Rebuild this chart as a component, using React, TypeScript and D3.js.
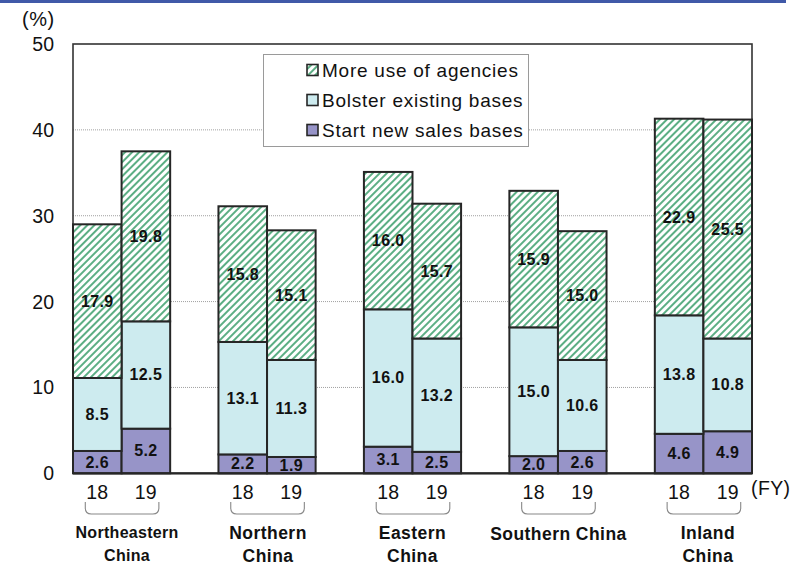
import React from "react";
import * as d3 from "d3";

// Regions and fiscal years
const regions = ["Northeastern China", "Northern China", "Eastern China", "Southern China", "Inland China"];
const regionLines = [["Northeastern", "China"], ["Northern", "China"], ["Eastern", "China"], ["Southern China"], ["Inland", "China"]];
const years = ["18", "19"];

// Series values (%), ordered region by region, FY18 then FY19
const startNewBases = [2.6, 5.2, 2.2, 1.9, 3.1, 2.5, 2.0, 2.6, 4.6, 4.9];
const bolsterExisting = [8.5, 12.5, 13.1, 11.3, 16.0, 13.2, 15.0, 10.6, 13.8, 10.8];
const moreAgencies = [17.9, 19.8, 15.8, 15.1, 16.0, 15.7, 15.9, 15.0, 22.9, 25.5];

const seriesNames = ["Start new sales bases", "Bolster existing bases", "More use of agencies"];
const yTicks = [0, 10, 20, 30, 40, 50];

const W = 809;
const H = 568;
const FONT = "'Liberation Sans', Arial, sans-serif";
const PURPLE = "#9794c8";
const CYAN = "#cdebef";
const GREEN = "#5cae84";
const EDGE = "#262626";

export default function App() {
  const plot = { left: 73, right: 752, top: 44, bottom: 473.3 };

  const x0 = d3.scaleBand<string>().domain(regions).range([plot.left, plot.right]).paddingInner(0.332).paddingOuter(0);
  const x1 = d3.scaleBand<string>().domain(years).range([0, x0.bandwidth()]);
  const y = d3.scaleLinear().domain([0, 50]).range([plot.bottom, plot.top]);

  const rows = regions.flatMap((r, ri) =>
    years.map((yr, yi) => {
      const i = ri * 2 + yi;
      return { region: r, year: yr, start: startNewBases[i], bolster: bolsterExisting[i], agencies: moreAgencies[i] };
    })
  );
  const stack = d3.stack<any>().keys(["start", "bolster", "agencies"])(rows);
  const fills = [PURPLE, CYAN, "url(#hatch)"];

  // small horizontal nudges for the region captions
  const captionDx = [5.5, 1, 0, 0.5, 4.5];

  return (
    <svg width={W} height={H} style={{ position: "absolute", left: 0, top: 0, background: "#fff" }} fontFamily={FONT}>
      <defs>
        <pattern id="hatch" patternUnits="userSpaceOnUse" width="5" height="5" patternTransform="rotate(45)">
          <rect width="5" height="5" fill="#fff" />
          <rect x="0" y="0" width="2" height="5" fill={GREEN} />
        </pattern>
      </defs>

      {/* header rule */}
      <rect x={0} y={0} width={786} height={3} fill="#4059a8" />

      {/* gridlines */}
      {yTicks.filter((t) => t > 0 && t < 50).map((t) => (
        <line key={t} x1={plot.left} x2={plot.right} y1={y(t)} y2={y(t)} stroke="#a0a0a0" strokeWidth={1} strokeDasharray="1,1" />
      ))}

      {/* plot frame */}
      <rect x={plot.left} y={plot.top} width={plot.right - plot.left} height={plot.bottom - plot.top} fill="none" stroke="#333" strokeWidth={1.6} />

      {/* stacked bars */}
      {stack.map((layer, li) =>
        layer.map((d, di) => {
          const row = rows[di];
          const bx = (x0(row.region) as number) + (x1(row.year) as number);
          const bw = x1.bandwidth();
          const yTop = y(d[1]);
          const yBot = y(d[0]);
          const v = d[1] - d[0];
          return (
            <g key={`${li}-${di}`}>
              <rect x={bx} y={yTop} width={bw} height={yBot - yTop} fill={fills[li]} stroke={EDGE} strokeWidth={2} />
              <text x={bx + bw / 2} y={(yTop + yBot) / 2} textAnchor="middle" dominantBaseline="central" fontSize={16} letterSpacing={0.4} fontWeight="bold" fill="#111">
                {v.toFixed(1)}
              </text>
            </g>
          );
        })
      )}

      {/* baseline */}
      <line x1={plot.left} x2={plot.right} y1={plot.bottom} y2={plot.bottom} stroke={EDGE} strokeWidth={2.2} />

      {/* y tick labels */}
      {yTicks.map((t) => (
        <text key={t} x={54} y={y(t)} textAnchor="end" dominantBaseline="central" fontSize={19.5} fill="#111">
          {t}
        </text>
      ))}
      <text x={22} y={26} fontSize={20} letterSpacing={0.5} fill="#111">(%)</text>

      {/* x tick labels, braces, region captions */}
      {regions.map((r, ri) => {
        const gx = x0(r) as number;
        const c18 = gx + (x1("18") as number) + x1.bandwidth() / 2;
        const c19 = gx + (x1("19") as number) + x1.bandwidth() / 2;
        const bl = c18 - 12;
        const br = c19 + 13;
        const top = 502;
        const bot = 514;
        const rr = 6;
        const path = `M${bl},${top} L${bl},${bot - rr} Q${bl},${bot} ${bl + rr},${bot} L${br - rr},${bot} Q${br},${bot} ${br},${bot - rr} L${br},${top}`;
        const cx = gx + x0.bandwidth() / 2 + captionDx[ri];
        const lines = regionLines[ri];
        const fs = ri === 0 ? 16 : 17.5;
        const ls = ri === 0 ? 0.3 : 0.45;
        return (
          <g key={r}>
            {years.map((yr, yi) => (
              <text key={yr} x={yi === 0 ? c18 : c19} y={499} textAnchor="middle" fontSize={19.5} letterSpacing={0.2} fill="#111">
                {yr}
              </text>
            ))}
            <path d={path} fill="none" stroke="#888" strokeWidth={1.1} />
            {lines.map((ln, li) => (
              <text key={li} x={cx} y={(lines.length === 1 ? 540 : ri === 0 ? 538 : 539) + li * 23} textAnchor="middle" fontSize={fs} letterSpacing={ls} fontWeight="bold" fill="#111">
                {ln}
              </text>
            ))}
          </g>
        );
      })}
      <text x={751} y={495} fontSize={19.5} letterSpacing={0.4} fill="#111">(FY)</text>

      {/* legend */}
      <g>
        <rect x={263.5} y={54.5} width={265} height={92} fill="#fff" stroke="#9a9a9a" strokeWidth={1} />
        {[2, 1, 0].map((si, k) => {
          const cy = 70 + k * 30;
          return (
            <g key={si}>
              <rect x={307} y={cy - 5.5} width={11} height={11} fill={fills[si]} stroke={EDGE} strokeWidth={1.6} />
              <text x={322} y={cy} dominantBaseline="central" fontSize={19} letterSpacing={0.75} fill="#111">
                {seriesNames[si]}
              </text>
            </g>
          );
        })}
      </g>
    </svg>
  );
}
